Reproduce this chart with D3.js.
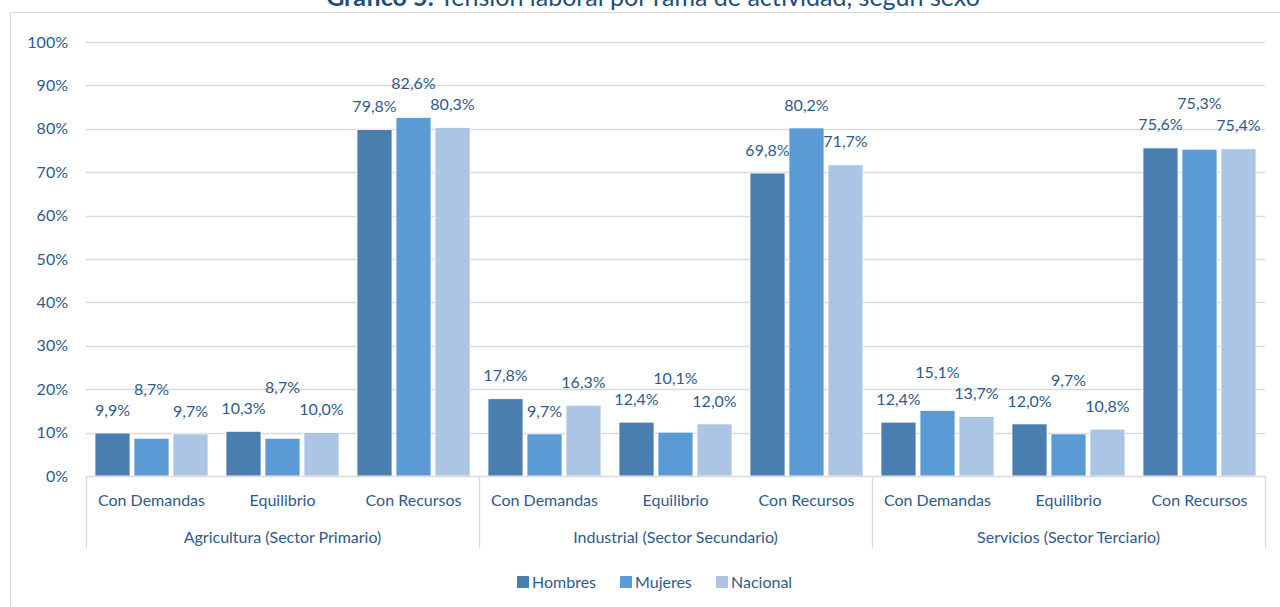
<!DOCTYPE html>
<html>
<head>
<meta charset="utf-8">
<script src="https://cdn.jsdelivr.net/npm/d3@7"></script>
<style>
body{margin:0;background:#fff}
svg{display:block;font-family:Lato,"Open Sans",sans-serif}
</style>
</head>
<body>
<div id="chart"></div>
<script>
var sectors = ["Agricultura (Sector Primario)","Industrial (Sector Secundario)","Servicios (Sector Terciario)"]
var levels = ["Con Demandas","Equilibrio","Con Recursos"]
var series = ["Hombres","Mujeres","Nacional"]
var colors = ["#4a7eae","#5b9bd5","#adc5e5"]
// values per sector/level, same order as sectors x levels
var hombres = [9.9,10.3,79.8, 17.8,12.4,69.8, 12.4,12.0,75.6]
var mujeres = [8.7,8.7,82.6, 9.7,10.1,80.2, 15.1,9.7,75.3]
var nacional = [9.7,10.0,80.3, 16.3,12.0,71.7, 13.7,10.8,75.4]
var yTicks = [0,10,20,30,40,50,60,70,80,90,100]

var width = 1280, height = 607
var pLeft = 86, pRight = 1265, pTop = 42, pBottom = 476
var txt = "#2f5a8a"
var fs = 16

var svg = d3.select("#chart").append("svg")
	.attr("width",width).attr("height",height)

svg.append("rect").attr("x",10.5).attr("y",12.5).attr("width",1400).attr("height",800)
	.attr("fill","none").attr("stroke","#d9d9d9")

var title = svg.append("text").attr("x",653).attr("y",6).attr("text-anchor","middle")
	.attr("font-size",25).attr("fill","#1f4e79")
title.append("tspan").attr("font-weight","bold").text("Gráfico 5:")
title.append("tspan").text(" Tensión laboral por rama de actividad, según sexo")

var cats = []
sectors.forEach(function(s,i){levels.forEach(function(l,j){cats.push(i*3+j)})})

var x0 = d3.scaleBand().domain(cats).range([pLeft,pRight]).paddingInner(18/131).paddingOuter(9/131)
var x1 = d3.scaleBand().domain(series).range([0,x0.bandwidth()]).paddingInner(4/39)
var y = d3.scaleLinear().domain([0,100]).range([pBottom,pTop])

// gridlines
svg.append("g").selectAll("line").data(yTicks.slice(1)).enter().append("line")
	.attr("x1",pLeft).attr("x2",pRight)
	.attr("y1",function(d){return Math.round(y(d))+0.5}).attr("y2",function(d){return Math.round(y(d))+0.5})
	.attr("stroke","#d9d9d9").attr("stroke-width",1.3)

var yAxis = d3.axisLeft(y).tickValues(yTicks).tickSize(0).tickPadding(18)
	.tickFormat(function(d){return d+"%"})
var yG = svg.append("g").attr("transform","translate("+pLeft+",0)").call(yAxis)
yG.select(".domain").remove()
yG.selectAll("text").attr("font-size",fs).attr("fill",txt).attr("font-family","Lato,'Open Sans',sans-serif")

var data = [hombres,mujeres,nacional]
var rows = cats.map(function(c){
	return series.map(function(s,k){return {cat:c,key:s,k:k,v:data[k][c]}})
})

var groups = svg.append("g").selectAll("g").data(rows).enter().append("g")
	.attr("transform",function(d,i){return "translate("+x0(cats[i])+",0)"})

groups.selectAll("rect").data(function(d){return d}).enter().append("rect")
	.attr("x",function(d){return x1(d.key)})
	.attr("width",x1.bandwidth())
	.attr("y",function(d){return y(d.v)})
	.attr("height",function(d){return pBottom-y(d.v)})
	.attr("fill",function(d){return colors[d.k]})
	.attr("stroke","#ffffff").attr("stroke-width",0.75)

// labels: middle one lifted when it would hit its neighbours
groups.each(function(d){
	var ly = d.map(function(e){return y(e.v)-23})
	if(Math.abs(ly[1]-ly[0])<18 || Math.abs(ly[1]-ly[2])<18){
		ly[1] = Math.min(ly[0],ly[2])-21
	}
	d3.select(this).selectAll("text.lab").data(d).enter().append("text")
		.attr("class","lab")
		.attr("x",function(e){return x1(e.key)+x1.bandwidth()/2})
		.attr("y",function(e,i){return ly[i]})
		.attr("dy","0.35em")
		.attr("text-anchor","middle").attr("font-size",fs).attr("fill",txt)
		.text(function(e){return e.v.toFixed(1).replace(".",",")+"%"})
})

// category axis
svg.append("line").attr("x1",pLeft).attr("x2",pRight).attr("y1",pBottom+0.5).attr("y2",pBottom+0.5)
	.attr("stroke","#d9d9d9").attr("stroke-width",1.3)
var sx = d3.scaleBand().domain(sectors).range([pLeft,pRight])
var bounds = sectors.map(function(s){return sx(s)}).concat([pRight])
svg.append("g").selectAll("line").data(bounds).enter().append("line")
	.attr("x1",function(d){return Math.round(d)+0.5}).attr("x2",function(d){return Math.round(d)+0.5})
	.attr("y1",pBottom).attr("y2",548)
	.attr("stroke","#d9d9d9").attr("stroke-width",1.3)

svg.append("g").selectAll("text").data(cats).enter().append("text")
	.attr("x",function(d){return x0(d)+x0.bandwidth()/2}).attr("y",500).attr("dy","0.35em")
	.attr("text-anchor","middle").attr("font-size",fs).attr("fill",txt)
	.text(function(d){return levels[d%3]})

svg.append("g").selectAll("text").data(sectors).enter().append("text")
	.attr("x",function(d){return sx(d)+sx.bandwidth()/2}).attr("y",537).attr("dy","0.35em")
	.attr("text-anchor","middle").attr("font-size",fs).attr("fill",txt)
	.text(function(d){return d})

// legend
var legX = [517,620,716]
var leg = svg.append("g").selectAll("g").data(series).enter().append("g")
	.attr("transform",function(d,i){return "translate("+legX[i]+",576)"})
leg.append("rect").attr("width",12).attr("height",12).attr("fill",function(d,i){return colors[i]})
leg.append("text").attr("x",15).attr("y",6).attr("dy","0.35em")
	.attr("font-size",fs).attr("fill",txt).text(function(d){return d})
</script>
</body>
</html>
